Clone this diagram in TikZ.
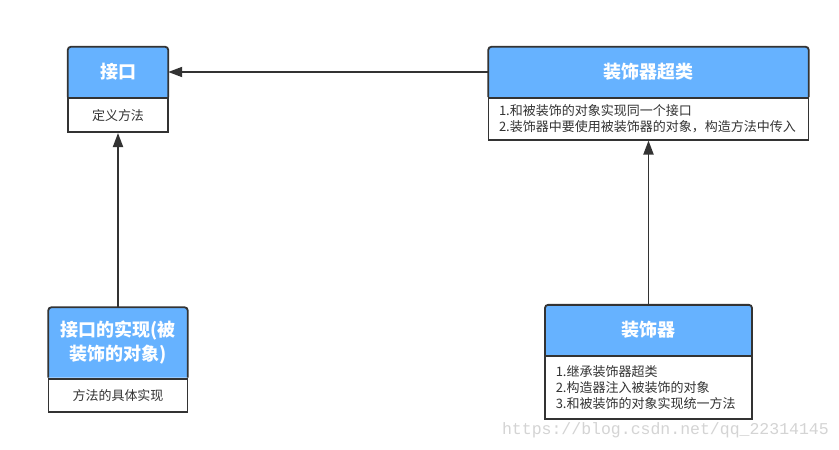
\documentclass[tikz,border=0pt]{standalone}
\usepackage{fontspec}
\setmainfont{Noto Sans CJK SC}
\newfontfamily\wmfont{Liberation Mono}
\usetikzlibrary{arrows.meta,backgrounds}
\definecolor{hblue}{HTML}{66B2FF}
\definecolor{edge}{HTML}{333333}
\definecolor{wmgray}{HTML}{D4D4D4}
\tikzset{
  hdr/.style={text=white, font=\fontsize{18}{24}\selectfont\bfseries, align=center, inner sep=0pt},
  bdy/.style={draw=edge, line width=1.8pt, fill=white, font=\fontsize{13}{16}\selectfont, text=edge, inner sep=0pt},
  bdyleft/.style={bdy, align=left, inner xsep=10.5pt},
  frameline/.style={draw=edge, line width=1.8pt},
  conn/.style={draw=edge, line width=1.8pt, -{Triangle[length=14pt,width=10pt]}},
}
\newcommand\hdrframe[1]{%
  \begin{scope}[on background layer]
    \fill[hblue] (#1.south west) -- ([yshift=-3pt]#1.north west) arc[start angle=180,end angle=90,radius=3pt]
      -- ([xshift=-3pt]#1.north east) arc[start angle=90,end angle=0,radius=3pt] -- (#1.south east) -- cycle;
  \end{scope}
  \draw[frameline] (#1.south west) -- ([yshift=-3pt]#1.north west) arc[start angle=180,end angle=90,radius=3pt]
      -- ([xshift=-3pt]#1.north east) arc[start angle=90,end angle=0,radius=3pt] -- (#1.south east);
}
\begin{document}
\begin{tikzpicture}
\begin{scope}[on background layer]
\fill[white] (0,0) rectangle (839pt,-450pt);
\end{scope}
\useasboundingbox (0,0) rectangle (839pt,-450pt);

% Interface
\node[hdr, minimum width=100pt, minimum height=50pt] (ifh) at (118pt,-72pt) {接口};
\node[bdy, minimum width=100pt, minimum height=34pt, anchor=north] (ifb) at (ifh.south) {定义方法};
\hdrframe{ifh}

% Decorator superclass
\node[hdr, minimum width=320pt, minimum height=50pt] (suph) at (648.5pt,-72pt) {装饰器超类};
\node[bdyleft, text width=299pt, minimum height=41.5pt, anchor=north] (supb) at (suph.south)
  {1.和被装饰的对象实现同一个接口\\2.装饰器中要使用被装饰器的对象，构造方法中传入};
\hdrframe{suph}

% Implementation
\node[hdr, minimum width=139pt, minimum height=70pt] (implh) at (118pt,-342.5pt) {接口的实现(被\\装饰的对象)};
\node[bdy, minimum width=139pt, minimum height=33.4pt, anchor=north] (implb) at (implh.south) {方法的具体实现};
\hdrframe{implh}

% Decorator
\node[hdr, minimum width=206.5pt, minimum height=49.5pt] (dech) at (648.5pt,-329.8pt) {装饰器};
\node[bdyleft, text width=185.5pt, minimum height=63.5pt, anchor=north] (decb) at (dech.south)
  {1.继承装饰器超类\\2.构造器注入被装饰的对象\\3.和被装饰的对象实现统一方法};
\hdrframe{dech}

% Connectors
\draw[conn] (suph.west) -- (ifh.east);
\draw[conn] (implh.north) -- (implh.north |- ifb.south);
\draw[conn] (dech.north) -- (dech.north |- supb.south);

% Watermark
\node[anchor=east, inner sep=0pt, text=wmgray, font=\wmfont\fontsize{16.5}{18}\selectfont] (wm) at (829pt,-430pt) {https://blog.csdn.net/qq\_22314145};
\end{tikzpicture}
\end{document}
